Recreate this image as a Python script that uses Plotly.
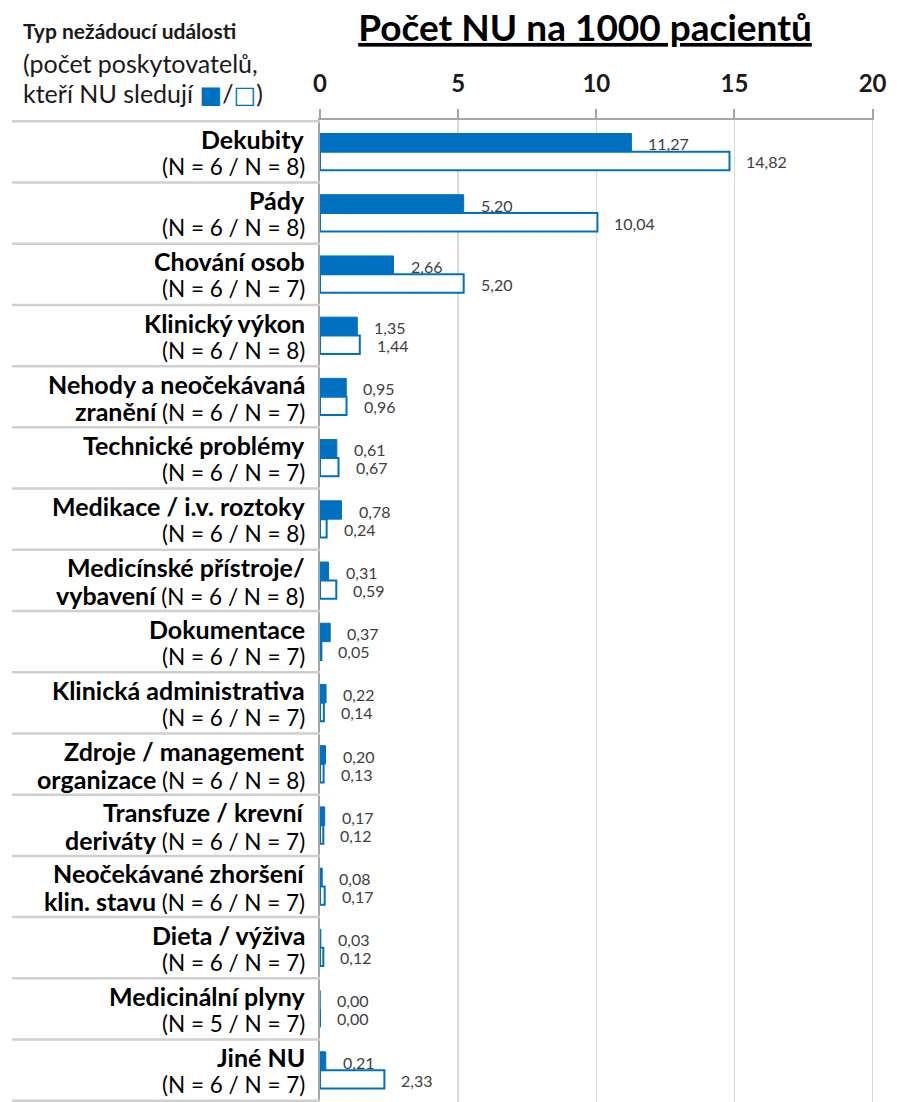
import plotly.graph_objects as go

# ---- data ----
cat_line1 = ["Dekubity", "Pády", "Chování osob", "Klinický výkon", "Nehody a neočekávaná",
             "Technické problémy", "Medikace / i.v. roztoky", "Medicínské přístroje/",
             "Dokumentace", "Klinická administrativa", "Zdroje / management",
             "Transfuze / krevní", "Neočekávané zhoršení", "Dieta / výživa",
             "Medicinální plyny", "Jiné NU"]
cat_line2 = ["", "", "", "", "zranění", "", "", "vybavení", "", "", "organizace",
             "deriváty", "klin. stavu", "", "", ""]
n_filled = [6, 6, 6, 6, 6, 6, 6, 6, 6, 6, 6, 6, 6, 6, 5, 6]
n_outline = [8, 8, 7, 8, 7, 7, 8, 8, 7, 7, 8, 7, 7, 7, 7, 7]
val_filled = [11.27, 5.20, 2.66, 1.35, 0.95, 0.61, 0.78, 0.31, 0.37, 0.22, 0.20, 0.17, 0.08, 0.03, 0.00, 0.21]
val_outline = [14.82, 10.04, 5.20, 1.44, 0.96, 0.67, 0.24, 0.59, 0.05, 0.14, 0.13, 0.12, 0.17, 0.12, 0.00, 2.33]
x_ticks = [0, 5, 10, 15, 20]

BLUE = "#0070C0"
FONT = "Lato"
W, H = 904, 1102
PLOT_L, PLOT_R, PLOT_T = 320, 874, 120  # px
ML = PLOT_L
MR = W - PLOT_R
MT = PLOT_T
MB = 0
PW = W - ML - MR
PH = H - MT - MB


def px2paper_x(sx):
    return (sx - ML) / PW


def px2paper_y(sy):
    return (H - MB - sy) / PH


cats = [f"c{i}" for i in range(len(cat_line1))]

fig = go.Figure()
fig.add_trace(go.Bar(y=cats, x=val_filled, orientation="h", name="filled",
                     marker=dict(color=BLUE, line=dict(color=BLUE, width=1))))
fig.add_trace(go.Bar(y=cats, x=val_outline, orientation="h", name="outline",
                     marker=dict(color="white", line=dict(color=BLUE, width=2))))

annotations = []
LBL = dict(family=FONT, size=16, color="#404040")
for c, v in zip(cats, val_filled):
    annotations.append(dict(x=v, y=c, xref="x", yref="y", text=f"{v:.2f}".replace(".", ","),
                            showarrow=False, xanchor="left", yanchor="middle",
                            xshift=15, yshift=8, font=LBL))
for c, v in zip(cats, val_outline):
    annotations.append(dict(x=v, y=c, xref="x", yref="y", text=f"{v:.2f}".replace(".", ","),
                            showarrow=False, xanchor="left", yanchor="middle",
                            xshift=15, yshift=-10, font=LBL))

# category labels (two lines each)
BOLD_SZ = 25
REG_SZ = 22.5
for c, l1, l2, a, b in zip(cats, cat_line1, cat_line2, n_filled, n_outline):
    annotations.append(dict(x=0, y=c, xref="paper", yref="y", xanchor="right", yanchor="middle",
                            xshift=-14, yshift=13, showarrow=False, borderpad=0,
                            text=f"<b>{l1}</b>", font=dict(family=FONT, size=BOLD_SZ, color="#000")))
    second = (f"<b><span style='font-size:{BOLD_SZ}px'>{l2}</span></b> " if l2 else "") + f"(N = {a} / N = {b})"
    annotations.append(dict(x=0, y=c, xref="paper", yref="y", xanchor="right", yanchor="middle",
                            xshift=-14, yshift=-14.5, showarrow=False, borderpad=0,
                            text=second, font=dict(family=FONT, size=REG_SZ, color="#000")))

# header text
annotations.append(dict(xref="paper", yref="paper", x=px2paper_x(21), y=px2paper_y(31),
                        xanchor="left", yanchor="middle", showarrow=False,
                        text="<b>Typ nežádoucí události</b>",
                        font=dict(family=FONT, size=21, color="#1a1a1a")))
annotations.append(dict(xref="paper", yref="paper", x=px2paper_x(21), y=px2paper_y(63),
                        xanchor="left", yanchor="middle", showarrow=False,
                        text="(počet poskytovatelů,",
                        font=dict(family=FONT, size=25, color="#1a1a1a")))
sq = f"font-family:DejaVu Sans;font-size:24px;color:{BLUE}"
annotations.append(dict(xref="paper", yref="paper", x=px2paper_x(21), y=px2paper_y(94),
                        xanchor="left", yanchor="middle", showarrow=False,
                        text=f"kteří NU sledují <span style='{sq}'>■</span>/<span style='{sq}'>□</span>)",
                        font=dict(family=FONT, size=25, color="#1a1a1a")))

shapes = []
for i in range(len(cats) + 1):
    shapes.append(dict(type="line", xref="paper", yref="y", x0=px2paper_x(12), x1=0,
                       y0=i - 0.5, y1=i - 0.5, line=dict(color="#CFCFCF", width=2.5)))

fig.update_layout(
    width=W, height=H,
    margin=dict(l=ML, r=MR, t=MT, b=MB),
    paper_bgcolor="white", plot_bgcolor="white",
    barmode="group", bargap=0.40, bargroupgap=0,
    showlegend=False,
    title=dict(text="<b><u>Počet NU na 1000 pacientů</u></b>", x=585 / W, y=1 - 28 / H,
               xanchor="center", yanchor="middle",
               font=dict(family=FONT, size=37, color="#000")),
    xaxis=dict(side="top", range=[0, 20.05], tickvals=x_ticks,
               ticktext=[f"<b>{t}</b>" for t in x_ticks],
               showgrid=True, gridcolor="#D9D9D9", gridwidth=1.5,
               showline=True, linecolor="#A6A6A6", linewidth=2,
               ticks="outside", ticklen=9, tickcolor="#A6A6A6", tickwidth=2,
               tickfont=dict(family=FONT, size=24, color="#1a1a1a"),
               ticklabelstandoff=7, zeroline=False, fixedrange=True),
    yaxis=dict(categoryorder="array", categoryarray=cats, autorange="reversed",
               showline=True, linecolor="#A6A6A6", linewidth=2,
               ticks="", showticklabels=False, showgrid=False, fixedrange=True),
    annotations=annotations,
    shapes=shapes,
)

fig.write_html("out.html", config={"displayModeBar": False, "staticPlot": True},
               post_script="document.body.style.margin='0px';")
